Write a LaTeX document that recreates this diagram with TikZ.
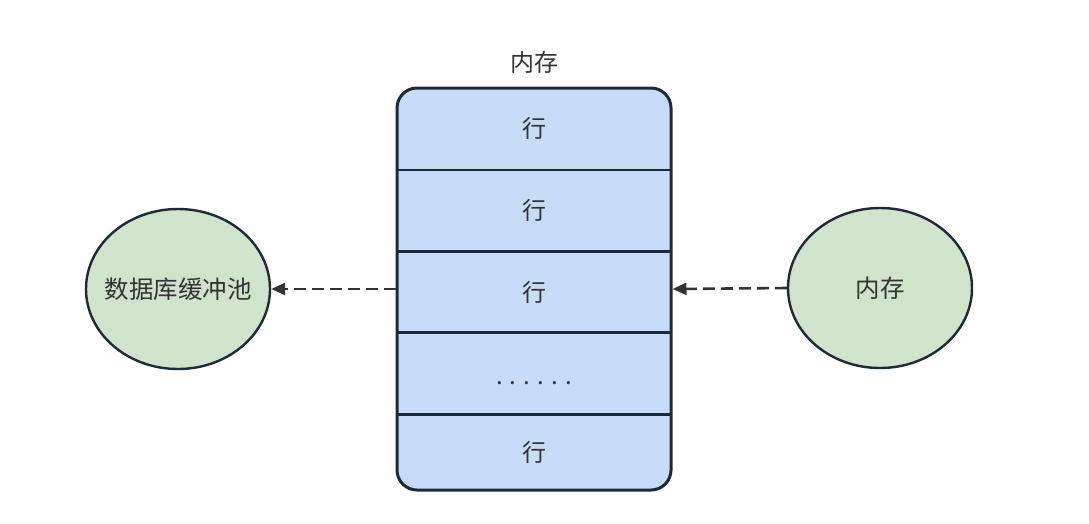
\documentclass[tikz,border=0pt]{standalone}
\usepackage{fontspec}
\setmainfont{Noto Sans CJK SC}
\usetikzlibrary{arrows.meta,positioning,shapes.geometric}
\definecolor{RowBlue}{HTML}{C6DCF8}
\definecolor{PoolGreen}{HTML}{D0E3CB}
\definecolor{EdgeDark}{HTML}{1E2A38}
\definecolor{TxtGray}{HTML}{333333}

\begin{document}
\begin{tikzpicture}[x=1pt, y=-1pt,
  membox/.style={draw=EdgeDark, line width=3pt, fill=RowBlue, rounded corners=20pt,
                 minimum width=274pt, minimum height=402pt, inner sep=0pt},
  rowcell/.style={minimum width=274pt, minimum height=81pt, inner sep=0pt,
                  font=\fontsize{24}{28}\selectfont, text=TxtGray},
  pool/.style={ellipse, draw=EdgeDark, line width=2.4pt, fill=PoolGreen,
               minimum width=184pt, minimum height=160pt, inner sep=0pt,
               font=\fontsize{24.5}{28}\selectfont, text=TxtGray},
  flow/.style={-{Triangle[length=14pt,width=12pt]}, dash pattern=on 12pt off 6pt,
               line width=2.6pt, color=TxtGray},
  node distance=0pt
]
  \useasboundingbox (0,0) rectangle (1089,523);
  \node[membox] (mem) at (534,289) {};
  \node[font=\fontsize{24}{28}\selectfont, text=TxtGray, above=10pt of mem] (title) {内存};
  \node[rowcell, below=0pt of mem.north, minimum height=83pt] (r1) {行};
  \node[rowcell, below=of r1] (r2) {行};
  \node[rowcell, below=of r2] (r3) {行};
  \node[rowcell, below=of r3, text depth=0pt, yshift=-10pt] (r4) {. . . . . .};
  \node[rowcell, below=0pt of r3.south, yshift=-82pt, anchor=north, minimum height=75pt] (r5) {行};
  \draw[draw=EdgeDark, line width=2.6pt] (r1.south west) -- (r1.south east);
  \draw[draw=EdgeDark, line width=2.6pt] (r2.south west) -- (r2.south east);
  \draw[draw=EdgeDark, line width=2.6pt] (r3.south west) -- (r3.south east);
  \draw[draw=EdgeDark, line width=2.6pt] (r5.north west) -- (r5.north east);
  \node[pool, inner xsep=-10pt] (buf) at (178,289) {数据库缓冲池};
  \node[pool] (ram) at (880,288) {内存};
  \draw[flow] (mem.west) -- (buf.east);
  \draw[flow] (ram.west) -- (mem.east);
\end{tikzpicture}
\end{document}
